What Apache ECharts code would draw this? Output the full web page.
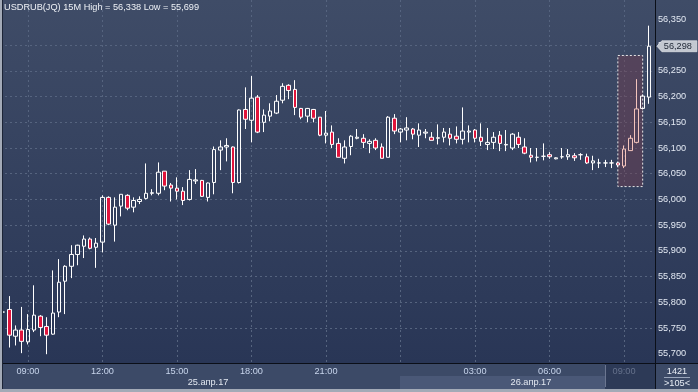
<!DOCTYPE html>
<html><head><meta charset="utf-8">
<script src="https://cdn.jsdelivr.net/npm/echarts@6/dist/echarts.min.js"></script>
<style>html,body{margin:0;padding:0;background:#2b3857;overflow:hidden}#c{width:698px;height:392px}</style>
</head><body><div id="c"></div>
<script>
// ---- categories (15-minute bars) ----
const day1Times = [
 '08:00','08:15','08:30','08:45','09:00','09:15','09:30','09:45','10:00','10:15','10:30','10:45',
 '11:00','11:15','11:30','11:45','12:00','12:15','12:30','12:45','13:00','13:15','13:30','13:45',
 '14:00','14:15','14:30','14:45','15:00','15:15','15:30','15:45','16:00','16:15','16:30','16:45',
 '17:00','17:15','17:30','17:45','18:00','18:15','18:30','18:45','19:00','19:15','19:30','19:45',
 '20:00','20:15','20:30','20:45','21:00','21:15','21:30','21:45','22:00','22:15','22:30','22:45',
 '23:00','23:15','23:30','23:45'];
const day2Times = [
 '00:00','00:15','00:30','00:45','01:00','01:15','01:30','01:45','02:00','02:15','02:30','02:45',
 '03:00','03:15','03:30','03:45','04:00','04:15','04:30','04:45','05:00','05:15','05:30','05:45',
 '06:00','06:15','06:30','06:45','07:00','07:15','07:30','07:45','08:00','08:15','08:30','08:45',
 '09:00','09:15','09:30','09:45','10:00'];
const categories = day1Times.map(t => '25.04.17 ' + t).concat(day2Times.map(t => '26.04.17 ' + t));

// ---- OHLC values ----
const opens = [55.781,
 55.786,55.734,55.746,55.723,55.746,55.773,55.753,55.738,55.781,55.841,
 55.870,55.893,55.909,55.923,55.907,55.917,56.004,55.950,55.987,56.008,
 55.985,55.996,56.002,56.012,56.012,56.055,56.028,56.022,56.016,56.000,
 56.036,56.037,56.004,56.033,56.096,56.102,56.102,56.033,56.175,56.154,
 56.199,56.150,56.162,56.168,56.193,56.222,56.214,56.177,56.162,56.175,
 56.160,56.125,56.131,56.109,56.080,56.103,56.119,56.119,56.109,56.115,
 56.102,56.082,56.158,56.131,56.135,56.137,56.125,56.129,56.121,56.119,
 56.121,56.127,56.123,56.117,56.131,56.135,56.121,56.107,56.111,56.125,
 56.106,56.100,56.121,56.102,56.086,56.082,56.084,56.087,56.079,56.083,
 56.083,56.085,56.087,56.083,56.071,56.071,56.071,56.071,56.071,56.065,
 56.095,56.111,56.177,56.199];
const closes = [55.781,
 55.736,55.746,55.724,55.747,55.775,55.751,55.736,55.779,55.839,55.870,
 55.893,55.911,55.923,55.905,55.915,56.004,55.952,55.985,56.010,55.983,
 55.998,56.000,56.012,56.013,56.053,56.026,56.022,56.016,55.998,56.039,
 56.038,56.006,56.032,56.097,56.102,56.105,56.033,56.174,56.156,56.197,
 56.131,56.164,56.172,56.191,56.220,56.212,56.179,56.160,56.177,56.158,
 56.125,56.129,56.107,56.082,56.102,56.123,56.121,56.111,56.113,56.100,
 56.080,56.160,56.133,56.137,56.139,56.127,56.135,56.131,56.115,56.120,
 56.131,56.119,56.117,56.133,56.133,56.119,56.113,56.111,56.121,56.109,
 56.107,56.127,56.107,56.090,56.082,56.082,56.084,56.083,56.081,56.083,
 56.087,56.081,56.087,56.071,56.075,56.071,56.071,56.071,56.067,56.098,
 56.119,56.176,56.201,56.298];
const lows = [55.777,
 55.712,55.716,55.701,55.718,55.742,55.734,55.699,55.737,55.771,55.777,
 55.847,55.872,55.886,55.903,55.867,55.897,55.950,55.918,55.967,55.979,
 55.975,55.991,56.000,56.008,56.008,56.018,55.996,56.000,55.989,55.998,
 56.030,56.005,55.996,56.010,56.057,56.074,56.012,56.031,56.137,56.111,
 56.129,56.131,56.152,56.166,56.187,56.195,56.164,56.156,56.150,56.150,
 56.123,56.109,56.100,56.082,56.070,56.086,56.117,56.100,56.090,56.096,
 56.080,56.082,56.127,56.111,56.115,56.117,56.102,56.119,56.115,56.107,
 56.111,56.105,56.109,56.107,56.111,56.111,56.104,56.096,56.098,56.094,
 56.094,56.096,56.100,56.088,56.072,56.074,56.076,56.079,56.078,56.079,
 56.077,56.075,56.077,56.069,56.057,56.061,56.063,56.061,56.063,56.061,
 56.095,56.109,56.175,56.186];
const highs = [55.785,
 55.812,55.755,55.791,55.777,55.833,55.775,55.771,55.862,55.884,55.872,
 55.911,55.912,55.930,55.926,55.925,56.008,56.006,56.004,56.010,56.010,
 56.004,56.006,56.070,56.020,56.072,56.055,56.032,56.043,56.024,56.057,
 56.059,56.038,56.033,56.103,56.115,56.119,56.103,56.175,56.218,56.240,
 56.203,56.175,56.187,56.203,56.226,56.224,56.232,56.178,56.178,56.176,
 56.160,56.172,56.144,56.119,56.115,56.125,56.137,56.127,56.117,56.119,
 56.109,56.162,56.166,56.139,56.160,56.139,56.148,56.137,56.131,56.146,
 56.139,56.139,56.142,56.179,56.144,56.137,56.148,56.139,56.131,56.133,
 56.135,56.129,56.131,56.119,56.100,56.100,56.109,56.092,56.082,56.100,
 56.098,56.090,56.090,56.089,56.085,56.079,56.077,56.077,56.073,56.105,
 56.125,56.234,56.204,56.338];

// ---- axis ticks / labels ----
const priceTicks = [55.70,55.75,55.80,55.85,55.90,55.95,56.00,56.05,56.10,56.15,56.20,56.25,56.30,56.35];
const yMin = 55.6819, yMax = 56.3879;
const timeTicks = ['25.04.17 09:00','25.04.17 12:00','25.04.17 15:00','25.04.17 18:00','25.04.17 21:00','26.04.17 03:00','26.04.17 06:00'];
const dimTimeTicks = ['26.04.17 09:00'];
const gridTimeTicks = timeTicks.concat(['26.04.17 00:00'], dimTimeTicks);
const dateCats = ['25.04.17 16:15','26.04.17 05:15'];
const dateLabels = ['25.апр.17','26.апр.17'];

// ---- header / annotations ----
const instrument = 'USDRUB(JQ)', timeframe = '15M';
const statHigh = 56.338, statLow = 55.699;
const highlightX = ['26.04.17 08:45','26.04.17 09:45'];
const highlightY = [56.280, 56.025];
const selectedBars = ['26.04.17 09:00','26.04.17 09:15','26.04.17 09:30'];
const barCountLabel = '1421', visibleLabel = '>105<';

const fmt = v => v.toFixed(3).replace('.', ',');
const FONT = "'Liberation Sans', Arial, sans-serif";
const FS = 9.2;

const data = opens.map((o, i) => {
  const v = [o, closes[i], lows[i], highs[i]];
  if (selectedBars.includes(categories[i])) {
    return {value: v, itemStyle: {borderColor: '#f4c4bc', borderColor0: '#f4c4bc'}};
  }
  return v;
});
const last = categories.length - 1;

const chart = echarts.init(document.getElementById('c'), null, {renderer: 'canvas', width: 698, height: 392});
chart.setOption({
  animation: false,
  backgroundColor: new echarts.graphic.LinearGradient(0, 0, 0, 1, [
    {offset: 0, color: '#3f4c67'}, {offset: 0.926, color: '#293656'}, {offset: 1, color: '#293656'}]),
  textStyle: {fontFamily: FONT},
  title: {
    text: instrument + ' ' + timeframe + ' High = ' + fmt(statHigh) + ' Low = ' + fmt(statLow),
    left: 4, top: 3, padding: 0,
    textStyle: {color: '#eef1f6', fontSize: FS, fontWeight: 'normal', fontFamily: FONT}
  },
  grid: {left: -1, top: 0, width: 653, height: 363, containLabel: false},
  xAxis: [{
    type: 'category', data: categories, boundaryGap: true, position: 'bottom',
    axisLine: {show: true, onZero: false, lineStyle: {color: '#0b0f18', width: 1}},
    axisTick: {show: false},
    axisLabel: {
      interval: (i, v) => timeTicks.includes(v) || dimTimeTicks.includes(v),
      formatter: v => dimTimeTicks.includes(v) ? '{dim|' + v.slice(-5) + '}' : v.slice(-5),
      color: '#c8d5ec', fontSize: FS, fontFamily: FONT, margin: 4,
      rich: {dim: {color: '#66728c', fontSize: FS, fontFamily: FONT}}
    },
    splitLine: {show: true, interval: (i, v) => gridTimeTicks.includes(v), alignWithLabel: true,
      lineStyle: {color: '#56647f', type: [2, 3], width: 1}}
  }, {
    type: 'category', data: categories, boundaryGap: true, position: 'bottom',
    axisLine: {show: false, onZero: false}, axisTick: {show: false}, splitLine: {show: false},
    axisLabel: {
      interval: (i, v) => dateCats.includes(v),
      formatter: v => dateLabels[dateCats.indexOf(v)] || '',
      color: '#e3e8f1', fontSize: FS, fontFamily: FONT, margin: 15
    }
  }],
  yAxis: {
    type: 'value', position: 'right', offset: 3, min: yMin, max: yMax, splitNumber: 14,
    axisLine: {show: true, lineStyle: {color: '#0b0f18', width: 1}},
    axisTick: {show: false, customValues: priceTicks},
    axisLabel: {customValues: priceTicks, formatter: v => fmt(v), color: '#e3e9f3', fontSize: FS, fontFamily: FONT, margin: 3},
    splitLine: {show: true, showMinLine: false, showMaxLine: false, lineStyle: {color: '#56647f', type: [2, 3], width: 1}}
  },
  series: [{
    type: 'candlestick', data: data, barWidth: 4,
    itemStyle: {color: 'rgba(0,0,0,0)', color0: '#e0143c', borderColor: '#ffffff', borderColor0: '#ffffff', borderWidth: 1},
    markArea: {
      silent: true,
      itemStyle: {color: 'rgba(118,62,78,0.42)', borderColor: '#e8e8e8', borderWidth: 1, borderType: [2, 2]},
      data: [[{xAxis: highlightX[0], yAxis: highlightY[0]}, {xAxis: highlightX[1], yAxis: highlightY[1]}]]
    },
    markPoint: {
      silent: true, animation: false,
      symbol: 'path://M0,5L5,0L40,0L40,10L5,10Z', symbolSize: [40, 11], symbolOffset: [28, 0], symbolKeepAspect: false,
      itemStyle: {color: '#c3c8d1', borderColor: '#eef0f3', borderWidth: 0.5},
      label: {show: true, position: 'inside', formatter: fmt(closes[last]), color: '#222a38', fontSize: FS, fontFamily: FONT, offset: [1, 0]},
      data: [{coord: [categories[last], closes[last]]}]
    }
  }],
  graphic: [
    {type: 'rect', silent: true, z: -3, shape: {x: 0, y: 363, width: 698, height: 29}, style: {fill: '#3c4a67'}},
    {type: 'rect', silent: true, z: -2, shape: {x: 400, y: 376, width: 205, height: 13}, style: {fill: '#4a5877'}},
    {type: 'rect', silent: true, z: -2, shape: {x: 605, y: 364, width: 50, height: 25}, style: {fill: '#2d3a57'}},
    {type: 'line', silent: true, z: -1, shape: {x1: 605.5, y1: 365, x2: 605.5, y2: 387}, style: {stroke: '#6b7690', lineWidth: 1}},
    {type: 'line', silent: true, z: 5, shape: {x1: 655.5, y1: 363, x2: 655.5, y2: 389}, style: {stroke: '#0b0f18', lineWidth: 1}},
    {type: 'line', silent: true, z: 5, shape: {x1: 0, y1: 363.5, x2: 698, y2: 363.5}, style: {stroke: '#0b0f18', lineWidth: 1}},
    {type: 'text', silent: true, z: 5, style: {text: barCountLabel, x: 677, y: 371, fill: '#e8edf5', font: FS + 'px ' + FONT, align: 'center', verticalAlign: 'middle'}},
    {type: 'line', silent: true, z: 5, shape: {x1: 664, y1: 377.5, x2: 690, y2: 377.5}, style: {stroke: '#9aa6bb', lineWidth: 1}},
    {type: 'text', silent: true, z: 5, style: {text: visibleLabel, x: 677, y: 383, fill: '#e8edf5', font: FS + 'px ' + FONT, align: 'center', verticalAlign: 'middle'}},
    {type: 'rect', silent: true, z: 10, shape: {x: 0, y: 0, width: 2, height: 392}, style: {fill: '#a3aab7'}},
    {type: 'rect', silent: true, z: 10, shape: {x: 2, y: 0, width: 1, height: 389}, style: {fill: '#1c2436'}},
    {type: 'rect', silent: true, z: 10, shape: {x: 0, y: 389, width: 698, height: 3}, style: {fill: '#a3aab7'}}
  ]
});
</script>
</body></html>
